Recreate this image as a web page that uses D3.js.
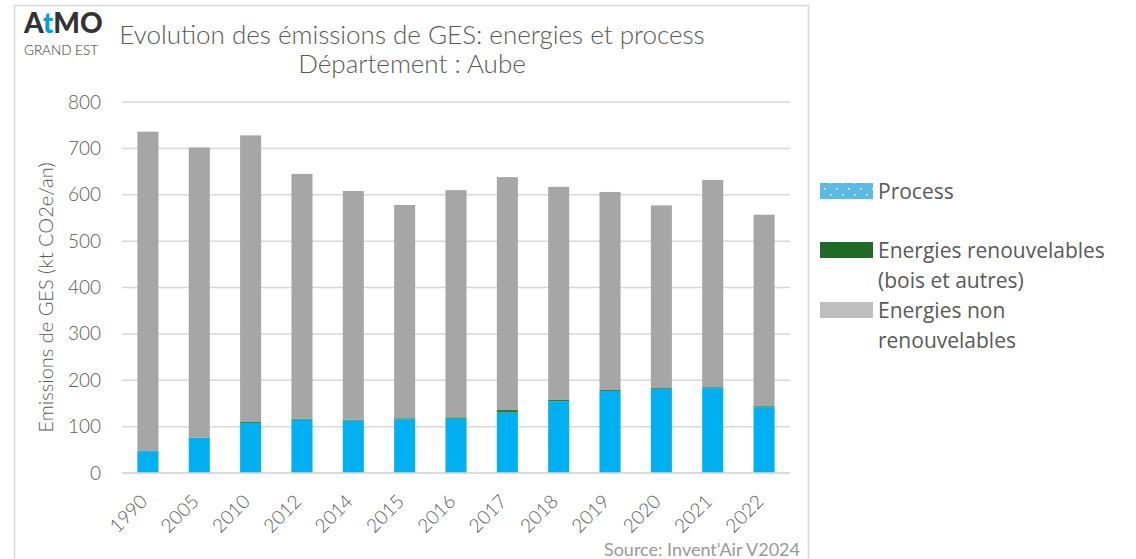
<!DOCTYPE html>
<meta charset="utf-8">
<head>
  <title>Evolution des émissions de GES - Aube</title>
</head>
<style>
  body { margin: 0; background: #fff; }
  text { font-family: Lato, "Open Sans", sans-serif; fill: #595959; }
</style>
<script src="https://d3js.org/d3.v7.min.js"></script>
<div id="my_dataviz"></div>
<script>
  // data (kt CO2e/an)
  var years = ["1990", "2005", "2010", "2012", "2014", "2015", "2016", "2017", "2018", "2019", "2020", "2021", "2022"];
  var process = [47, 76, 108, 115, 113, 116, 117, 130, 155, 177, 181, 183, 142];
  var renouvelables = [0.5, 0.5, 2, 2, 2, 2, 3, 7, 3.5, 2, 2, 2, 2];
  var nonRenouvelables = [688.5, 625.5, 618, 528, 493, 460, 490, 501, 458.5, 427, 394, 447, 413];
  var yTicks = [0, 100, 200, 300, 400, 500, 600, 700, 800];

  var series = [
    { key: "process", label: ["Process"], values: process, color: "#00b0f0", legend: "#5bb9e6" },
    { key: "renouv", label: ["Energies renouvelables", "(bois et autres)"], values: renouvelables, color: "#2e7d32", legend: "#1e6b26" },
    { key: "nonrenouv", label: ["Energies non", "renouvelables"], values: nonRenouvelables, color: "#a6a6a6", legend: "#bfbfbf" }
  ];

  var W = 1136, H = 559;
  var plot = { left: 122, right: 790, top: 102, bottom: 473 };

  var svg = d3.select("#my_dataviz").append("svg")
    .attr("width", W)
    .attr("height", H);

  // pattern for the legend "Process" swatch
  var pat = svg.append("defs").append("pattern")
    .attr("id", "dots")
    .attr("width", 12).attr("height", 12)
    .attr("patternUnits", "userSpaceOnUse");
  pat.append("rect").attr("width", 12).attr("height", 12).attr("fill", "#5bb9e6");
  pat.append("rect").attr("x", 2).attr("y", 2).attr("width", 1.5).attr("height", 1.5).attr("fill", "#fff");
  pat.append("rect").attr("x", 8).attr("y", 8).attr("width", 1.5).attr("height", 1.5).attr("fill", "#fff");

  // frame
  svg.append("rect")
    .attr("x", 14.5).attr("y", 5.5)
    .attr("width", 794).attr("height", 600)
    .attr("fill", "none")
    .attr("stroke", "#d9d9d9")
    .attr("stroke-width", 1.5);

  var x = d3.scaleBand()
    .domain(years)
    .range([plot.left, plot.right])
    .paddingInner(0.59)
    .paddingOuter(0.3);

  var y = d3.scaleLinear()
    .domain([0, 800])
    .range([plot.bottom, plot.top]);

  // gridlines
  svg.append("g")
    .selectAll("line")
    .data(yTicks)
    .enter().append("line")
    .attr("x1", plot.left).attr("x2", plot.right)
    .attr("y1", function(d) { return y(d); })
    .attr("y2", function(d) { return y(d); })
    .attr("stroke", "#d9d9d9")
    .attr("stroke-width", 1.5);

  // y axis labels
  var yAxis = svg.append("g")
    .attr("transform", "translate(" + (plot.left - 8) + ",0)")
    .call(d3.axisLeft(y).tickValues(yTicks).tickSize(0).tickPadding(13));
  yAxis.select(".domain").remove();
  yAxis.selectAll("text")
    .style("font-size", "19px")
    .style("font-family", "Lato, sans-serif")
    .style("font-weight", "300")
    .attr("fill", "#595959");

  // y axis title
  svg.append("text")
    .attr("transform", "translate(53," + ((plot.top + plot.bottom) / 2 + 10) + ") rotate(-90)")
    .style("text-anchor", "middle")
    .style("font-size", "20px")
    .style("font-weight", "300")
    .text("Emissions de GES (kt CO2e/an)");

  // stacked bars
  var rows = years.map(function(yr, i) {
    return { year: yr, process: process[i], renouv: renouvelables[i], nonrenouv: nonRenouvelables[i] };
  });
  var stack = d3.stack().keys(series.map(function(s) { return s.key; }))(rows);

  svg.append("g")
    .selectAll("g")
    .data(stack)
    .enter().append("g")
    .attr("fill", function(d, i) { return series[i].color; })
    .selectAll("rect")
    .data(function(d) { return d; })
    .enter().append("rect")
    .attr("x", function(d) { return x(d.data.year); })
    .attr("width", x.bandwidth())
    .attr("y", function(d) { return y(d[1]); })
    .attr("height", function(d) { return y(d[0]) - y(d[1]); });

  // x axis line
  svg.append("line")
    .attr("x1", plot.left).attr("x2", plot.right)
    .attr("y1", plot.bottom).attr("y2", plot.bottom)
    .attr("stroke", "#d9d9d9")
    .attr("stroke-width", 1.5);

  // x labels, rotated
  svg.append("g")
    .selectAll("text")
    .data(years)
    .enter().append("text")
    .attr("transform", function(d) {
      return "translate(" + (x(d) + x.bandwidth() / 2 - 4) + "," + (plot.bottom + 25) + ") rotate(-45)";
    })
    .attr("dy", "0.35em")
    .style("text-anchor", "end")
    .style("font-size", "19px")
    .style("font-weight", "300")
    .text(function(d) { return d; });

  // title
  svg.append("text")
    .attr("x", 412).attr("y", 44)
    .style("text-anchor", "middle")
    .style("font-size", "26px")
    .style("font-weight", "300")
    .text("Evolution des émissions de GES: energies et process");
  svg.append("text")
    .attr("x", 412).attr("y", 73)
    .style("text-anchor", "middle")
    .style("font-size", "26px")
    .style("font-weight", "300")
    .text("Département : Aube");

  // logo
  var logo = svg.append("text")
    .attr("x", 24).attr("y", 33)
    .style("font-size", "28px")
    .style("font-weight", "900");
  logo.append("tspan").style("fill", "#333").text("A");
  logo.append("tspan").style("fill", "#00a0dc").text("t");
  logo.append("tspan").style("fill", "#333").text("MO");
  svg.append("text")
    .attr("x", 24).attr("y", 55)
    .style("font-size", "13.5px")
    .style("font-weight", "300")
    .style("fill", "#333")
    .text("GRAND EST");

  // legend
  var legY = [192, 251, 311];
  var legend = svg.append("g");
  series.forEach(function(s, i) {
    legend.append("rect")
      .attr("x", 820).attr("y", legY[i] - 9)
      .attr("width", 53).attr("height", 16)
      .attr("fill", i === 0 ? "url(#dots)" : s.legend);
    s.label.forEach(function(line, j) {
      legend.append("text")
        .attr("x", 878).attr("y", legY[i] + j * 30)
        .attr("dy", "0.35em")
        .style("font-size", "21px")
        .style("font-family", "'Open Sans', sans-serif")
        .text(line);
    });
  });

  // source
  svg.append("text")
    .attr("x", 800).attr("y", 556)
    .style("text-anchor", "end")
    .style("font-size", "18px")
    .style("fill", "#999999")
    .text("Source: Invent'Air V2024");
</script>
